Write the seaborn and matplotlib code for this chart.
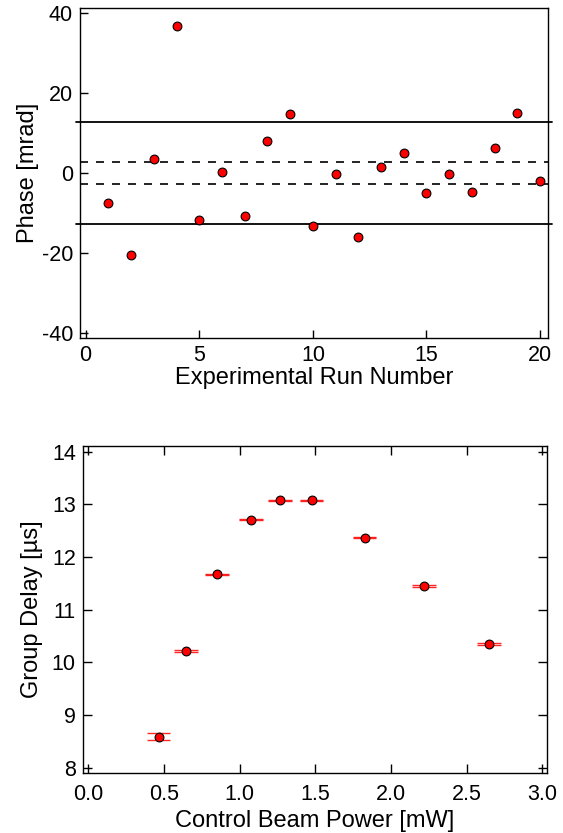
import numpy as np
import pandas as pd
import matplotlib
matplotlib.use("Agg")
import matplotlib.pyplot as plt
import seaborn as sns

# 相位数据 (上图)
run_number = list(range(1, 21))
phase_mrad = [-7.4, -20.6, 3.5, 36.8, -11.7, 0.25, -10.7, 7.9, 14.8, -13.2,
              -0.3, -15.9, 1.6, 4.9, -4.9, -0.2, -4.7, 6.2, 15.0, -2.1]
solid_band = 12.8
dashed_band = 2.8

# 群延迟数据 (下图)
power_mw = [0.465, 0.646, 0.849, 1.075, 1.265, 1.476, 1.827, 2.217, 2.646]
delay_us = [8.59, 10.22, 11.67, 12.71, 13.08, 13.08, 12.37, 11.45, 10.35]
power_err = [0.078, 0.078, 0.078, 0.079, 0.079, 0.078, 0.077, 0.078, 0.079]
delay_err = [0.07, 0.02, 0.015, 0.01, 0.01, 0.01, 0.015, 0.015, 0.02]

sns.set_style("ticks")
plt.rcParams['font.family'] = ['Liberation Sans', 'DejaVu Sans']
plt.rcParams['axes.unicode_minus'] = False
plt.rcParams.update({'text.color': 'black', 'axes.labelcolor': 'black',
                     'xtick.color': 'black', 'ytick.color': 'black',
                     'axes.edgecolor': 'black'})

fig = plt.figure(figsize=(5.63, 8.33), dpi=100)

# ---------------- 上图 ----------------
ax1 = fig.add_axes([0.1421, 0.5942, 0.8313, 0.3962])
df1 = pd.DataFrame({'run': run_number, 'phase': phase_mrad})
ax1.axhline(solid_band, xmin=-0.008, xmax=1.008, color='black', lw=1.3, clip_on=False, zorder=1)
ax1.axhline(-solid_band, xmin=-0.008, xmax=1.008, color='black', lw=1.3, clip_on=False, zorder=1)
ax1.axhline(dashed_band, color='black', lw=1.2, ls=(0, (4.8, 4.8)), zorder=1)
ax1.axhline(-dashed_band, color='black', lw=1.2, ls=(0, (4.8, 4.8)), zorder=1)
sns.scatterplot(data=df1, x='run', y='phase', ax=ax1, s=40, color='red',
                edgecolor='black', linewidth=0.8, zorder=3)
ax1.set_xlim(-0.25, 20.35)
ax1.set_ylim(-41.25, 41.25)
ax1.set_xticks([0, 5, 10, 15, 20])
ax1.set_yticks([-40, -20, 0, 20, 40])
ax1.tick_params(direction='in', length=6, width=1, labelsize=15.5, pad=5,
                top=False, right=False)
ax1.set_xlabel('Experimental Run Number', fontsize=17, labelpad=1)
ax1.set_ylabel('Phase [mrad]', fontsize=17, labelpad=2)
for sp in ax1.spines.values():
    sp.set_linewidth(1.0)

# ---------------- 下图 ----------------
ax2 = fig.add_axes([0.1469, 0.0724, 0.8242, 0.3922])
p = np.array(power_mw)
d = np.array(delay_us)
pe = np.array(power_err)
de = np.array(delay_err)
ax2.hlines(d + de, p - pe, p + pe, color='red', lw=1.0, alpha=0.85, zorder=2)
ax2.hlines(d - de, p - pe, p + pe, color='red', lw=1.0, alpha=0.85, zorder=2)
df2 = pd.DataFrame({'power': power_mw, 'delay': delay_us})
sns.scatterplot(data=df2, x='power', y='delay', ax=ax2, s=40, color='red',
                edgecolor='black', linewidth=0.8, zorder=3)
ax2.set_xlim(-0.037, 3.03)
ax2.set_ylim(7.905, 14.11)
ax2.set_xticks([0.0, 0.5, 1.0, 1.5, 2.0, 2.5, 3.0])
ax2.set_xticklabels(['0.0', '0.5', '1.0', '1.5', '2.0', '2.5', '3.0'])
ax2.set_yticks([8, 9, 10, 11, 12, 13, 14])
ax2.tick_params(direction='in', length=6.5, width=1, labelsize=15.5, pad=5,
                top=True, right=True)
ax2.tick_params(axis='x', pad=8.5)
ax2.set_xlabel('Control Beam Power [mW]', fontsize=17, labelpad=3)
ax2.set_ylabel('Group Delay [µs]', fontsize=17, labelpad=6)
for sp in ax2.spines.values():
    sp.set_linewidth(1.0)

fig.savefig('out.png', dpi=100)
